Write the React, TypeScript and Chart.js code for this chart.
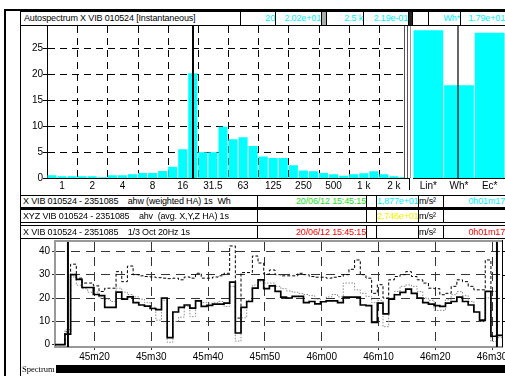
import React, { useEffect, useRef } from "react";
import { Chart, registerables } from "chart.js";
Chart.register(...registerables);

const FONT = "'Liberation Sans', Arial, Helvetica, sans-serif";
Chart.defaults.font.family = FONT;
Chart.defaults.font.size = 10;
Chart.defaults.color = "#000";

// ---------- Spectrum (1/3 octave bands) ----------
const BAND_LABELS = ["0.8","1","1.25","1.6","2","2.5","3.15","4","5","6.3","8","10","12.5","16","20","25","31.5","40","50","63","80","100","125","160","200","250","315","400","500","630","800","1k","1.25k","1.6k","2k","2.5k"];
const GROUP_LABELS = ["1","2","4","8","16","31.5","63","125","250","500","1 k","2 k"];
const SPECTRUM_VALUES = [0.6,0.4,0.4,0.4,0.4,0.2,0.6,0.6,0.8,1.0,1.0,1.4,2.2,5.6,20.2,5.0,5.0,9.9,7.5,7.9,6.2,4.2,3.9,3.9,2.5,1.5,1.35,1.0,0.8,0.5,0.8,0.95,1.35,0.8,0.4,0.22];
const SPECTRUM_CURSOR_BAND = "20";

// ---------- Overall values ----------
const OVERALL_LABELS = ["Lin*", "Wh*", "Ec*"];
const OVERALL_VALUES = [28.5, 17.9, 28.0];
const OVERALL_CURSOR = "Wh*";

// ---------- Time history (seconds after 15:45:00, 1 s steps) ----------
const TIME_START = 12.8;
const AHW_VALUES = [0, 0, 4.5,
  30, 28, 24.5, 24.5, 21.5, 21, 16, 16, 22.5, 19.5,
  20.5, 18, 17, 16.5, 15.5, 15, 20, 3, 14, 16,
  17, 15.7, 18.8, 16.4, 16.8, 17.4, 17.4, 17.8, 26.8, 5,
  16, 18.5, 24.2, 27.8, 24, 25.2, 22.8, 20.4, 20, 20.7,
  20.7, 18, 18.5, 17.5, 18.4, 18.8, 18.8, 18, 20.4, 20.4,
  20.4, 17, 16.7, 9.5, 17.8, 13.2, 19.5, 21.4, 22.4, 23.8,
  22, 20, 18, 17.4, 16.7, 16.4, 17.8, 18.5, 20.4, 18.5,
  17, 14, 10.5, 22.8, 3.6, 4];
const AHV_VALUES = [0, 0, 5.5,
  34.5, 28.5, 26.4, 26.4, 25.2, 22.8, 24.2, 24.2, 31.3, 27,
  33.7, 30, 29.5, 29.2, 29, 28.7, 28.5, 28.3, 28.5, 27.8,
  29, 28.5, 30.6, 28.5, 28.5, 29, 29.5, 30.6, 42.3, 11.4,
  30.9, 30.9, 38, 35, 30.2, 32, 30, 29.5, 29.5, 29.5,
  30.6, 30, 29.2, 28.9, 28.9, 28.5, 28.9, 29.2, 30, 32.3,
  36.3, 30, 28.5, 22, 25.7, 20, 27.8, 29.2, 30, 31.3,
  29.2, 27.8, 26.4, 24.2, 24, 21.4, 22, 25, 27.8, 27,
  25, 23.5, 23.5, 36.3, 22.8, 4];
const OCT20_VALUES = [0, 0, 6.4,
  29, 25.5, 24, 22.5, 22.5, 20, 19.5, 18.5, 24.2, 22.5,
  21.5, 20.5, 19.5, 18, 16, 10.5, 19, 1, 10, 11.8,
  16.4, 12, 18.5, 18, 17.8, 18, 18.5, 16.4, 25, 1.5,
  11.5, 19, 25.5, 27, 26.4, 26.4, 25, 24, 23, 22.5,
  22, 21.5, 21, 19.5, 18.5, 20.5, 21.5, 20.5, 26.4, 26.4,
  23.5, 22, 20.7, 18, 19, 7.7, 20, 22.8, 25, 25.6,
  25, 22.8, 20, 19, 14.7, 14.7, 19.2, 21.4, 22.8, 21,
  18.5, 14, 10, 20, 1.4, 3];
const CURSOR_TIMES = [15.33, 90.86];

const fitY = (w: number) => (s: any) => { s.width = w; s.paddingTop = 0; s.paddingBottom = 0; };
const fitX = (h: number) => (s: any) => { s.height = h; s.paddingLeft = 0; s.paddingRight = 0; };

const toPoints = (vals: number[]) => {
  const pts = vals.map((v, i) => ({ x: TIME_START + i, y: v }));
  pts.push({ x: TIME_START + vals.length, y: vals[vals.length - 1] });
  return pts;
};

const timeLabel = (v: any) => {
  const total = 45 * 60 + Number(v);
  const m = Math.floor(total / 60);
  const s = Math.round(total - m * 60);
  return `${m}m${String(s).padStart(2, "0")}`;
};

// manual dashes with fillRect (crisp, independent of line-dash state)
function dashH(ctx: any, x0: number, x1: number, y: number, on: number, off: number) {
  for (let x = x0; x < x1; x += on + off) ctx.fillRect(x, y, Math.min(on, x1 - x), 1);
}
function dashV(ctx: any, x: number, y0: number, y1: number, on: number, off: number) {
  for (let y = y0; y < y1; y += on + off) ctx.fillRect(x, y, 1, Math.min(on, y1 - y));
}

function useChart(ref: any, make: () => any) {
  useEffect(() => {
    const chart = new Chart(ref.current, make());
    return () => chart.destroy();
  }, []);
}

const base = {
  animation: false,
  responsive: false,
  devicePixelRatio: 1,
  plugins: { legend: { display: false }, tooltip: { enabled: false } },
};

const Cell = ({ x, y, w, h, text = "", color = "#000", align = "right", bg = "#fff", bottom = 1, pad = 1 }: any) => (
  <div style={{
    position: "absolute", left: x, top: y, width: w, height: h, boxSizing: "border-box",
    border: "1px solid #000", borderBottomWidth: bottom, background: bg, color,
    fontSize: 9, lineHeight: `${h - 1 - bottom}px`, textAlign: align, whiteSpace: "pre",
    overflow: "hidden", padding: `0 ${pad}px`, letterSpacing: "-0.15px", fontFamily: FONT,
  }}>{text}</div>
);

const Line = ({ x, y, w, h, c = "#000" }: any) => (
  <div style={{ position: "absolute", left: x, top: y, width: w, height: h, background: c }} />
);

export default function App() {
  const specRef = useRef<HTMLCanvasElement>(null);
  const overallRef = useRef<HTMLCanvasElement>(null);
  const timeRef = useRef<HTMLCanvasElement>(null);

  useChart(specRef, () => ({
    type: "bar",
    data: {
      labels: BAND_LABELS,
      datasets: [{ data: SPECTRUM_VALUES, backgroundColor: "#00FFFF", barPercentage: 0.9, categoryPercentage: 1 }],
    },
    options: {
      ...base,
      layout: { padding: { top: 1, left: 0, right: 0, bottom: 0 } },
      scales: {
        x: {
          grid: { display: false, drawTicks: false },
          border: { display: true, color: "#000", width: 1 },
          ticks: {
            autoSkip: false, maxRotation: 0, minRotation: 0, padding: 2,
            callback: (_v: any, i: number) => (i % 3 === 1 ? GROUP_LABELS[(i - 1) / 3] : ""),
          },
          afterFit: fitX(16.7),
        },
        y: {
          min: 0, max: 29.3,
          grid: { display: false, drawTicks: true, tickLength: 4 },
          border: { display: true, color: "#000", width: 1 },
          ticks: { stepSize: 5, includeBounds: false, padding: 0 },
          afterFit: fitY(27),
        },
      },
    },
    plugins: [{
      id: "specGrid",
      beforeDatasetsDraw(chart: any) {
        const { ctx, chartArea: a, scales } = chart;
        ctx.save();
        ctx.fillStyle = "#000";
        const L = Math.round(a.left), R = Math.round(a.right), T = Math.round(a.top), B = Math.round(a.bottom);
        for (const t of scales.y.ticks) {
          const y = Math.round(scales.y.getPixelForValue(t.value));
          ctx.fillRect(L - 4, y, 4, 1);
          if (t.value !== 0) dashH(ctx, L + 1, R, y, 7, 5);
        }
        for (let g = 1; g < GROUP_LABELS.length; g++) {
          const i = g * 3;
          const x = Math.round((scales.x.getPixelForValue(i - 1) + scales.x.getPixelForValue(i)) / 2);
          dashV(ctx, x, T, B, 7, 5);
        }
        ctx.restore();
      },
      afterDatasetsDraw(chart: any) {
        const { ctx, chartArea: a, scales } = chart;
        const x = scales.x.getPixelForValue(BAND_LABELS.indexOf(SPECTRUM_CURSOR_BAND));
        ctx.save();
        ctx.fillStyle = "#000";
        ctx.fillRect(Math.round(x) - 1, a.top, 2, a.bottom - a.top);
        ctx.restore();
      },
    }],
  }));

  useChart(overallRef, () => ({
    type: "bar",
    data: {
      labels: OVERALL_LABELS,
      datasets: [{ data: OVERALL_VALUES, backgroundColor: "#00FFFF", barPercentage: 0.97, categoryPercentage: 1 }],
    },
    options: {
      ...base,
      layout: { padding: { top: 1, left: 4, right: 0, bottom: 0 } },
      scales: {
        x: {
          grid: { display: false, drawTicks: false },
          border: { display: true, color: "#000", width: 1 },
          ticks: { padding: 2, maxRotation: 0 },
          afterFit: fitX(16.7),
        },
        y: { display: false, min: 0, max: 29.3 },
      },
    },
    plugins: [{
      id: "overallCursor",
      afterDatasetsDraw(chart: any) {
        const { ctx, chartArea: a, scales } = chart;
        const x = Math.round(scales.x.getPixelForValue(OVERALL_LABELS.indexOf(OVERALL_CURSOR))) - 2;
        ctx.save();
        ctx.fillStyle = "rgba(0,0,0,0.6)";
        ctx.fillRect(x, a.top, 2, a.bottom - a.top);
        ctx.restore();
      },
    }],
  }));

  useChart(timeRef, () => ({
    type: "line",
    data: {
      datasets: [
        { label: "ahw", data: toPoints(AHW_VALUES), borderColor: "#000", borderWidth: 1.7, stepped: true, pointRadius: 0, fill: false },
        { label: "ahv", data: toPoints(AHV_VALUES), borderColor: "#000", borderWidth: 1, borderDash: [3, 2], stepped: true, pointRadius: 0, fill: false },
        { label: "1/3 Oct 20Hz", data: toPoints(OCT20_VALUES), borderColor: "#8c8c8c", borderWidth: 1, borderDash: [1.5, 1.5], stepped: true, pointRadius: 0, fill: false },
      ],
    },
    options: {
      ...base,
      layout: { padding: { top: 2, left: 0, right: 3, bottom: 0 } },
      scales: {
        x: {
          type: "linear", min: 13.05, max: 91.75,
          grid: { color: "#333", tickColor: "#333", tickLength: 3 },
          border: { display: true, color: "#999", width: 2, dash: [9, 6] },
          ticks: { stepSize: 10, includeBounds: false, padding: 1, maxRotation: 0, autoSkip: false, callback: timeLabel },
          afterFit: fitX(18),
        },
        y: {
          min: -1, max: 44,
          grid: { color: (c: any) => (c.tick && c.tick.value === 0 ? "transparent" : "#333"), tickColor: "#333", tickLength: 3 },
          border: { display: true, color: "#999", width: 2, dash: [9, 6] },
          ticks: { stepSize: 10, includeBounds: false, padding: 2 },
          afterFit: fitY(35),
        },
      },
    },
    plugins: [{
      id: "timeDecor",
      afterDatasetsDraw(chart: any) {
        const { ctx, chartArea: a, scales } = chart;
        ctx.save();
        ctx.fillStyle = "#999";
        ctx.fillRect(a.left - 1, a.top - 2, a.right - a.left + 1, 2);
        ctx.strokeStyle = "#000";
        ctx.lineWidth = 2;
        for (const t of CURSOR_TIMES) {
          const px = scales.x.getPixelForValue(t);
          ctx.beginPath(); ctx.moveTo(px, a.top); ctx.lineTo(px, a.bottom); ctx.stroke();
        }
        ctx.lineWidth = 1;
        ctx.beginPath(); ctx.moveTo(a.right + 0.5, a.top - 2); ctx.lineTo(a.right + 0.5, a.bottom); ctx.stroke();
        for (const v of [10, 20, 30, 40]) {
          const py = Math.round(scales.y.getPixelForValue(v)) + 0.5;
          ctx.beginPath(); ctx.moveTo(a.right, py); ctx.lineTo(a.right + 3, py); ctx.stroke();
        }
        ctx.restore();
      },
    }],
  }));

  const rows = [
    { y: 195, h: 14, bottom: 2, left: "X VIB 010524 - 2351085    ahw (weighted HA) 1s  Wh", date: "20/06/12 15:45:15", dateColor: "#22DD22", val: "1,877e+01", valColor: "#00F0FF", dur: "0h01m17", durColor: "#00F0FF" },
    { y: 209, h: 14, bottom: 1, left: "XYZ VIB 010524 - 2351085    ahv  (avg. X,Y,Z HA) 1s", date: "", dateColor: "#000", val: "2,746e+01", valColor: "#F2F200", dur: "", durColor: "#000" },
    { y: 225, h: 14, bottom: 1, left: "X VIB 010524 - 2351085    1/3 Oct 20Hz 1s", date: "20/06/12 15:45:15", dateColor: "#FF0000", val: "", valColor: "#000", dur: "0h01m17", durColor: "#FF0000" },
  ];

  return (
    <div style={{ position: "absolute", left: 0, top: 0, width: 505, height: 376, overflow: "hidden", background: "#fff", fontFamily: FONT }}>
      <canvas ref={specRef} width={389} height={170} style={{ position: "absolute", left: 20, top: 25, width: 389, height: 170 }} />
      <canvas ref={overallRef} width={96} height={170} style={{ position: "absolute", left: 409, top: 25, width: 96, height: 170 }} />
      <canvas ref={timeRef} width={485} height={125} style={{ position: "absolute", left: 20, top: 240, width: 485, height: 125 }} />

      {/* separator between spectrum and overall bars */}
      <Line x={404} y={26} w={6} h={152} c="#fff" />
      <Line x={404} y={26} w={1} h={152} c="#555" />
      <Line x={407} y={26} w={1} h={152} c="#555" />
      <Line x={410} y={26} w={1} h={152} c="#999" />
      <Line x={409} y={178} w={1} h={12} c="#000" />

      {/* frame */}
      <Line x={4} y={9} w={501} h={2} />
      <Line x={4} y={9} w={2} h={367} />
      <Line x={20} y={11} w={1} h={365} />

      {/* header */}
      <Cell x={20} y={11} w={221} h={15} text="Autospectrum X VIB 010524 [Instantaneous]" align="left" pad={3} />
      <Cell x={240} y={11} w={36} h={15} text="20" color="#00F0FF" pad={0} />
      <Cell x={275} y={11} w={47} h={15} text="2.02e+01" color="#00F0FF" pad={0} />
      <Cell x={321} y={11} w={6} h={15} bg="#aaa" />
      <Cell x={326} y={11} w={38} h={15} text="2.5 k" color="#00F0FF" pad={0} />
      <Cell x={363} y={11} w={46} h={15} text="2.19e-01" color="#00F0FF" pad={0} />
      <Cell x={408} y={11} w={5} h={15} bg="#222" />
      <Cell x={412} y={11} w={17} h={15} />
      <Cell x={428} y={11} w={33} h={15} text="Wh*" color="#00F0FF" pad={0} />
      <Cell x={460} y={11} w={46} h={15} text="1.79e+01" color="#00F0FF" pad={0} />

      {/* info rows */}
      {rows.map((r, i) => (
        <React.Fragment key={i}>
          <Cell x={20} y={r.y} w={238} h={r.h} bottom={r.bottom} text={r.left} align="left" pad={2} />
          <Cell x={257} y={r.y} w={110} h={r.h} bottom={r.bottom} text={r.date} color={r.dateColor} pad={0} />
          <Cell x={366} y={r.y} w={11} h={r.h} bottom={r.bottom} />
          <Cell x={376} y={r.y} w={43} h={r.h} bottom={r.bottom} text={r.val} color={r.valColor} pad={0} />
          <Cell x={418} y={r.y} w={26} h={r.h} bottom={r.bottom} text="m/s²" align="left" pad={0} />
          <Cell x={443} y={r.y} w={63} h={r.h} bottom={r.bottom} text={r.dur} color={r.durColor} pad={0} />
        </React.Fragment>
      ))}

      {/* bottom spectrum bar */}
      <div style={{ position: "absolute", left: 22, top: 364, fontFamily: "'Liberation Serif', 'Times New Roman', serif", fontSize: 8.5, lineHeight: "10px", color: "#000" }}>Spectrum</div>
      <Line x={56} y={365} w={449} h={8} />
    </div>
  );
}
